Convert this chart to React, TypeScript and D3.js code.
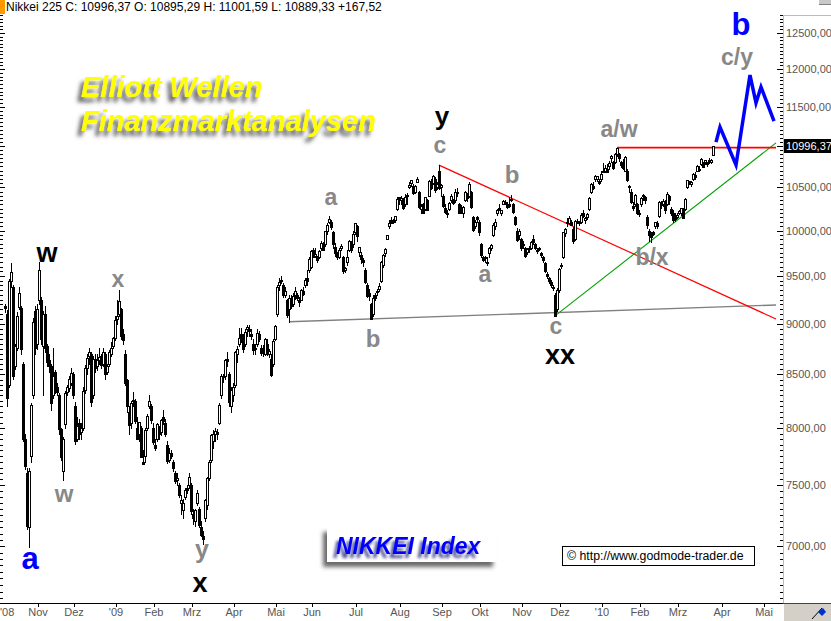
import React from 'react';
import * as d3 from 'd3';

type Candle = [number, number, number, number]; // open, high, low, close

// ---- Daily Nikkei 225 candles (open, high, low, close) ----
const oct08: Candle[] = [
  [9180, 9200, 9120, 9157], [9100, 9140, 8200, 8276], [8400, 9470, 8380, 9447], [9450, 9640, 9380, 9547],
  [9380, 9400, 8460, 8480], [8580, 8800, 8550, 8780], [8760, 9120, 8740, 9080], [9170, 9380, 9150, 9320],
  [9160, 9180, 8700, 8750], [8600, 8620, 7880, 7900], [7900, 7950, 7640, 7660], [7600, 7650, 7140, 7160],
  [7150, 7650, 6994, 7621], [7750, 8230, 7700, 8211], [8300, 9060, 8280, 9020], [9130, 9180, 8700, 8760],
];
const nov08: Candle[] = [
  [8800, 9200, 8750, 9150], [9250, 9650, 9200, 9560], [9250, 9280, 8800, 8850], [8780, 9130, 8300, 9100],
  [9100, 9180, 8720, 8760], [8780, 8800, 8580, 8620], [8640, 8700, 8520, 8580], [8580, 8600, 8160, 8230],
  [8300, 8760, 8280, 8480], [8520, 8540, 8320, 8380], [8380, 8420, 8300, 8330], [8300, 8320, 7950, 7990],
  [7990, 8000, 7720, 7740], [7620, 7920, 7540, 7900], [8040, 8340, 8000, 8320], [8330, 8400, 8300, 8380],
  [8370, 8480, 8340, 8460], [8420, 8560, 8400, 8512],
];
const dec08: Candle[] = [
  [8500, 8520, 8280, 8300], [8200, 8240, 7860, 7880], [7900, 8100, 7880, 8020], [8050, 8080, 7900, 7950],
  [7960, 8050, 7900, 8000], [8000, 8380, 7980, 8340], [8350, 8590, 8320, 8560], [8560, 8700, 8500, 8660],
  [8680, 8760, 8600, 8720], [8700, 8720, 8200, 8240], [8300, 8680, 8280, 8650], [8650, 8700, 8520, 8560],
  [8580, 8700, 8540, 8640], [8640, 8760, 8600, 8670], [8680, 8700, 8560, 8590], [8600, 8760, 8580, 8720],
  [8700, 8720, 8460, 8500], [8520, 8600, 8500, 8580], [8600, 8740, 8580, 8720], [8700, 8820, 8680, 8760],
  [8780, 8870, 8760, 8860],
];
const jan09: Candle[] = [
  [8860, 9080, 8840, 9043], [9050, 9240, 9000, 9080], [9100, 9350, 9080, 9239], [9150, 9160, 8850, 8876],
  [8900, 8950, 8800, 8836], [8700, 8740, 8400, 8413], [8450, 8460, 8150, 8200], [8150, 8200, 7950, 8023],
  [8050, 8250, 8000, 8230], [8250, 8330, 8200, 8256], [8250, 8270, 8050, 8065], [8000, 8100, 7900, 7901],
  [7950, 8050, 7880, 8051], [8000, 8020, 7740, 7745], [7700, 7800, 7680, 7682], [7750, 8000, 7700, 7985],
  [8000, 8130, 7980, 8106], [8200, 8300, 8180, 8251], [8200, 8220, 8050, 8077],
];
const feb09: Candle[] = [
  [8000, 8050, 7860, 7873], [7850, 7900, 7800, 7825], [7900, 8050, 7880, 8038], [8000, 8020, 7900, 7950],
  [7960, 8080, 7940, 8076], [8100, 8160, 8040, 8060], [8050, 8080, 7930, 7945], [7850, 7880, 7690, 7705],
  [7720, 7820, 7700, 7779], [7780, 7800, 7730, 7750], [7700, 7720, 7620, 7645], [7600, 7620, 7520, 7534],
  [7540, 7600, 7500, 7557], [7500, 7520, 7400, 7416], [7350, 7420, 7260, 7376], [7290, 7380, 7230, 7350],
  [7400, 7480, 7380, 7461], [7480, 7500, 7430, 7457], [7500, 7600, 7480, 7568],
];
const mar09: Candle[] = [
  [7500, 7520, 7260, 7280], [7260, 7300, 7180, 7229], [7200, 7300, 7160, 7290], [7350, 7460, 7330, 7433],
  [7300, 7320, 7150, 7173], [7150, 7200, 7080, 7086], [7080, 7120, 7021, 7054], [7230, 7380, 7200, 7376],
  [7330, 7570, 7300, 7560], [7560, 7720, 7540, 7700], [7720, 7950, 7700, 7940], [7880, 7980, 7820, 7950],
  [7950, 8000, 7880, 7972], [7960, 7990, 7900, 7945], [8050, 8230, 8040, 8215], [8300, 8500, 8280, 8488],
  [8470, 8500, 8430, 8480], [8480, 8650, 8460, 8636], [8650, 8720, 8580, 8626], [8500, 8520, 8200, 8236],
  [8200, 8380, 8150, 8350],
];
const apr09: Candle[] = [
  [8300, 8420, 8250, 8380], [8400, 8730, 8380, 8719], [8700, 8780, 8620, 8750], [8800, 8960, 8780, 8858],
  [8900, 8960, 8820, 8832], [8830, 8900, 8720, 8750], [8800, 8950, 8780, 8917], [8950, 8990, 8880, 8964],
  [8950, 8990, 8880, 8924], [8900, 8950, 8850, 8873], [8800, 8850, 8700, 8742], [8750, 8800, 8700, 8755],
  [8800, 8950, 8780, 8907], [8900, 8930, 8830, 8844], [8760, 8790, 8690, 8711], [8720, 8790, 8680, 8727],
  [8700, 8860, 8690, 8847], [8800, 8850, 8690, 8707], [8700, 8750, 8670, 8726], [8650, 8700, 8480, 8493],
  [8600, 8850, 8580, 8828],
];
const may09: Candle[] = [
  [8850, 8990, 8840, 8977], [9100, 9400, 9080, 9385], [9400, 9480, 9350, 9432], [9450, 9500, 9420, 9451],
  [9400, 9420, 9280, 9298], [9300, 9380, 9280, 9340], [9250, 9260, 9070, 9093], [9150, 9300, 9020, 9265],
  [9220, 9300, 9160, 9180], [9200, 9320, 9180, 9290], [9300, 9380, 9260, 9344], [9300, 9320, 9240, 9264],
  [9250, 9280, 9180, 9225], [9250, 9360, 9240, 9348], [9340, 9380, 9300, 9310], [9400, 9480, 9380, 9461],
  [9480, 9560, 9400, 9450], [9560, 9700, 9540, 9680],
];
const jun09: Candle[] = [
  [9600, 9780, 9580, 9768], [9780, 9800, 9700, 9704], [9720, 9800, 9700, 9741], [9700, 9720, 9650, 9668],
  [9700, 9780, 9690, 9768], [9800, 9880, 9780, 9865], [9850, 9870, 9780, 9786], [9850, 9991, 9830, 9991],
  [9990, 10080, 9960, 10066], [10100, 10170, 10080, 10135], [10100, 10120, 10020, 10040], [9980, 10000, 9800, 9848],
  [9820, 9860, 9720, 9750], [9750, 9760, 9680, 9703], [9700, 9800, 9690, 9786], [9800, 9850, 9780, 9827],
  [9700, 9720, 9530, 9549], [9560, 9600, 9540, 9590], [9650, 9780, 9620, 9701], [9780, 9890, 9770, 9877],
  [9850, 9880, 9760, 9783], [9850, 9990, 9820, 9958],
];
const jul09: Candle[] = [
  [9980, 10090, 9960, 10086], [10050, 10060, 9880, 9939], [9760, 9820, 9720, 9810], [9730, 9760, 9640, 9680],
  [9670, 9690, 9610, 9647], [9560, 9580, 9420, 9440], [9400, 9420, 9280, 9291], [9320, 9360, 9250, 9288],
  [9200, 9210, 9050, 9050], [9100, 9300, 9080, 9262], [9300, 9320, 9240, 9269], [9330, 9360, 9300, 9344],
  [9360, 9420, 9340, 9395], [9450, 9660, 9440, 9652], [9620, 9740, 9600, 9723], [9750, 9800, 9720, 9792],
  [9900, 9950, 9900, 9944], [10050, 10120, 10030, 10088], [10120, 10150, 10080, 10087], [10100, 10130, 10080, 10113],
  [10120, 10170, 10100, 10165], [10250, 10380, 10240, 10357],
];
const aug09: Candle[] = [
  [10380, 10380, 10300, 10352], [10350, 10400, 10300, 10375], [10350, 10370, 10250, 10252], [10300, 10420, 10280, 10388],
  [10400, 10430, 10300, 10412], [10500, 10560, 10490, 10524], [10550, 10590, 10520, 10585], [10520, 10540, 10420, 10435],
  [10450, 10530, 10430, 10517], [10560, 10620, 10560, 10597], [10450, 10460, 10260, 10269], [10250, 10300, 10200, 10284],
  [10300, 10320, 10200, 10204], [10250, 10390, 10240, 10383], [10350, 10360, 10230, 10238], [10400, 10590, 10400, 10581],
  [10560, 10600, 10480, 10497], [10550, 10650, 10540, 10639], [10600, 10620, 10440, 10473], [10500, 10560, 10480, 10534],
  [10700, 10767, 10480, 10492],
];
const sep09: Candle[] = [
  [10500, 10540, 10400, 10530], [10400, 10420, 10270, 10280], [10260, 10300, 10200, 10214], [10200, 10230, 10150, 10187],
  [10250, 10330, 10240, 10320], [10350, 10420, 10330, 10393], [10350, 10360, 10300, 10312], [10350, 10480, 10330, 10444],
  [10450, 10490, 10400, 10430], [10300, 10320, 10200, 10202], [10250, 10290, 10200, 10217], [10200, 10280, 10150, 10270],
  [10350, 10460, 10340, 10443], [10420, 10430, 10340, 10370], [10400, 10560, 10380, 10544], [10450, 10460, 10260, 10265],
  [10150, 10160, 10000, 10009], [10050, 10120, 10030, 10100], [10150, 10160, 10100, 10133],
];
const oct09: Candle[] = [
  [10100, 10120, 9950, 9978], [9850, 9860, 9700, 9731], [9700, 9720, 9660, 9674], [9700, 9720, 9650, 9691],
  [9650, 9700, 9620, 9647], [9750, 9810, 9700, 9799], [9800, 9850, 9780, 9832], [9950, 10080, 9940, 10060],
  [10050, 10130, 10020, 10100], [10200, 10250, 10180, 10238], [10250, 10300, 10230, 10258], [10200, 10240, 10180, 10236],
  [10300, 10350, 10300, 10336], [10330, 10350, 10300, 10333], [10300, 10330, 10260, 10267], [10300, 10380, 10270, 10282],
  [10350, 10410, 10340, 10362], [10300, 10320, 10200, 10212], [10150, 10160, 10060, 10075], [10000, 10030, 9880, 9891],
  [9950, 10020, 9900, 10000],
];
const nov09: Candle[] = [
  [9900, 9920, 9780, 9802], [9850, 9880, 9800, 9844], [9800, 9820, 9700, 9718], [9760, 9800, 9740, 9789],
  [9800, 9830, 9760, 9809], [9800, 9880, 9790, 9870], [9900, 9950, 9850, 9871], [9850, 9860, 9790, 9804],
  [9780, 9800, 9750, 9770], [9800, 9820, 9780, 9791], [9750, 9760, 9700, 9731], [9700, 9720, 9650, 9676],
  [9640, 9650, 9540, 9549], [9520, 9540, 9480, 9497], [9480, 9490, 9420, 9441], [9440, 9460, 9380, 9401],
  [9380, 9400, 9350, 9383], [9300, 9320, 9076, 9081], [9150, 9370, 9130, 9345],
];
const dec09: Candle[] = [
  [9350, 9580, 9330, 9572], [9620, 9640, 9580, 9608], [9700, 9980, 9690, 9978], [9970, 10030, 9940, 10022],
  [10100, 10140, 10050, 10090], [10080, 10160, 10070, 10140], [10100, 10120, 10060, 10068], [10020, 10040, 9860, 9879],
  [9900, 10120, 9890, 10107], [10100, 10130, 10080, 10105], [10100, 10110, 10060, 10083], [10100, 10200, 10090, 10177],
  [10200, 10240, 10150, 10163], [10120, 10150, 10080, 10142], [10150, 10200, 10130, 10183], [10250, 10380, 10240, 10370],
  [10450, 10550, 10430, 10536], [10520, 10560, 10480, 10494], [10600, 10650, 10570, 10634], [10600, 10640, 10580, 10638],
  [10580, 10600, 10540, 10546],
];
const jan10: Candle[] = [
  [10600, 10700, 10580, 10654], [10700, 10790, 10680, 10681], [10700, 10770, 10680, 10731], [10720, 10780, 10680, 10681],
  [10750, 10820, 10720, 10798], [10850, 10890, 10800, 10879], [10800, 10820, 10720, 10735], [10800, 10920, 10790, 10907],
  [10900, 10982, 10880, 10982], [10900, 10920, 10820, 10855], [10800, 10820, 10740, 10764], [10800, 10840, 10720, 10737],
  [10700, 10880, 10690, 10868], [10700, 10720, 10580, 10590], [10500, 10530, 10450, 10512], [10450, 10480, 10320, 10325],
  [10280, 10330, 10240, 10252], [10300, 10420, 10280, 10414], [10300, 10320, 10190, 10198],
];
const feb10: Candle[] = [
  [10200, 10240, 10160, 10205], [10300, 10390, 10280, 10371], [10400, 10420, 10350, 10404], [10380, 10400, 10320, 10355],
  [10150, 10180, 10030, 10057], [10000, 10020, 9880, 9951], [9950, 9980, 9870, 9932], [9980, 10000, 9950, 9963],
  [10050, 10100, 10030, 10092], [10080, 10110, 10030, 10050], [10160, 10340, 10150, 10330], [10300, 10340, 10260, 10306],
  [10300, 10360, 10280, 10335], [10330, 10350, 10200, 10230], [10300, 10450, 10290, 10420], [10400, 10410, 10300, 10352],
  [10250, 10270, 10180, 10198], [10200, 10230, 10100, 10120], [10150, 10200, 10110, 10126],
];
const mar10: Candle[] = [
  [10150, 10200, 10140, 10172], [10200, 10230, 10190, 10221], [10200, 10260, 10180, 10253], [10250, 10260, 10140, 10145],
  [10250, 10370, 10240, 10368], [10500, 10590, 10490, 10585], [10570, 10580, 10540, 10567], [10540, 10580, 10520, 10563],
  [10600, 10670, 10590, 10664], [10650, 10680, 10600, 10624], [10700, 10770, 10690, 10751], [10720, 10760, 10700, 10721],
  [10780, 10850, 10770, 10846], [10800, 10810, 10740, 10744], [10800, 10830, 10780, 10824], [10800, 10810, 10750, 10775],
  [10830, 10850, 10790, 10815], [10800, 10840, 10790, 10829], [10895.29, 11001.59, 10889.33, 10996.37],
];

// trading-day index (0 = 1 Oct 2008) of the first candle above (9 Oct 2008)
const firstIndex = 6;

// month axis: label + trading-day index of the month's first session
const monthLabels = ["'08", 'Nov', 'Dez', "'09", 'Feb', 'Mrz', 'Apr', 'Mai', 'Jun', 'Jul', 'Aug', 'Sep', 'Okt', 'Nov', 'Dez', "'10", 'Feb', 'Mrz', 'Apr', 'Mai'];
const monthStarts = [0, 22, 40, 61, 80, 99, 120, 141, 159, 181, 203, 224, 243, 264, 283, 304, 323, 342, 364, 385];

// price axis labels
const priceTicks = [7000, 7500, 8000, 8500, 9000, 9500, 10000, 10500, 11000, 11500, 12000, 12500];

// projected path (blue) : [trading-day index, price]
const projection: [number, number][] = [
  [361.5, 11050], [363.5, 11240], [371.5, 10768], [378.5, 11920], [381.5, 11550], [384, 11760], [390.5, 11316],
];

// trend lines: [index, price] -> [index, price]
const resistanceLine: [number, number][] = [[312, 10982], [391.5, 10982]];
const downTrendLine: [number, number][] = [[223, 10767], [391.5, 9049]];
const upTrendLine: [number, number][] = [[281, 9080], [391.5, 11040]];
const baseLine: [number, number][] = [[148, 9020], [391.5, 9193]];

// wave labels: text, index, price (baseline), color, size
const waveLabels: { t: string; i: number; p: number; c: string; s: number }[] = [
  { t: 'w', i: 27, p: 9650, c: '#000', s: 27 },
  { t: 'a', i: 18.5, p: 6821, c: '#0000ff', s: 31 },
  { t: 'w', i: 35.5, p: 7358, c: '#888', s: 24 },
  { t: 'x', i: 62.5, p: 9381, c: '#888', s: 23 },
  { t: 'y', i: 104.5, p: 6906, c: '#888', s: 25 },
  { t: 'x', i: 103.5, p: 6646, c: '#000', s: 27 },
  { t: 'a', i: 169, p: 10292, c: '#888', s: 23 },
  { t: 'b', i: 190, p: 8766, c: '#888', s: 24 },
  { t: 'y', i: 224.5, p: 11260, c: '#000', s: 26 },
  { t: 'c', i: 223.5, p: 10915, c: '#888', s: 23 },
  { t: 'b', i: 259.5, p: 10551, c: '#888', s: 24 },
  { t: 'a', i: 246, p: 9435, c: '#888', s: 23 },
  { t: 'c', i: 281.5, p: 8896, c: '#888', s: 23 },
  { t: 'xx', i: 283.5, p: 8600, c: '#000', s: 27 },
  { t: 'a/w', i: 313, p: 11114, c: '#888', s: 23 },
  { t: 'b/x', i: 329.5, p: 9618, c: '#888', s: 23 },
  { t: 'c/y', i: 372, p: 12056, c: '#888', s: 23 },
  { t: 'b', i: 374, p: 12472, c: '#0000ff', s: 31 },
];

const candles: Candle[] = [
  ...oct08, ...nov08, ...dec08, ...jan09, ...feb09, ...mar09, ...apr09, ...may09, ...jun09,
  ...jul09, ...aug09, ...sep09, ...oct09, ...nov09, ...dec09, ...jan10, ...feb10, ...mar10,
];

const W = 831;
const H = 621;
const PLOT_R = 783;
const PLOT_T = 15;
const AXIS_Y = 603;
const FONT = "Arial, 'Liberation Sans', sans-serif";

const fmt = (v: number) => v.toFixed(2).replace('.', ',');

export default function App() {
  const x = d3.scaleLinear().domain([0, 385]).range([-7, 763]);
  const y = d3.scaleLog().domain([6565, 12771]).range([AXIS_Y, 14]);

  const line = d3
    .line<[number, number]>()
    .x((d) => x(d[0]))
    .y((d) => y(d[1]));

  const minorTicks = d3.range(6600, 12800, 50);
  const last = candles[candles.length - 1];

  return (
    <svg
      width={W}
      height={H}
      style={{ position: 'absolute', left: 0, top: 0, background: '#fff' }}
      fontFamily={FONT}
    >
      <defs>
        <clipPath id="plot">
          <rect x={0} y={PLOT_T} width={PLOT_R} height={AXIS_Y - PLOT_T} />
        </clipPath>
        <filter id="tshadow" x="-10%" y="-40%" width="120%" height="180%">
          <feGaussianBlur in="SourceAlpha" stdDeviation="2.2" />
          <feOffset dx="-4" dy="5" result="off" />
          <feFlood floodColor="#3a3a3a" floodOpacity="0.85" />
          <feComposite in2="off" operator="in" />
          <feMerge>
            <feMergeNode />
            <feMergeNode in="SourceGraphic" />
          </feMerge>
        </filter>
        <filter id="nshadow" x="-10%" y="-40%" width="120%" height="180%">
          <feGaussianBlur in="SourceAlpha" stdDeviation="1.8" />
          <feOffset dx="-3" dy="4" result="off" />
          <feFlood floodColor="#000060" floodOpacity="0.7" />
          <feComposite in2="off" operator="in" />
          <feMerge>
            <feMergeNode />
            <feMergeNode in="SourceGraphic" />
          </feMerge>
        </filter>
        <filter id="bshadow" x="-10%" y="-30%" width="120%" height="160%">
          <feGaussianBlur in="SourceAlpha" stdDeviation="2" />
          <feOffset dx="-4" dy="5" result="off" />
          <feFlood floodColor="#444" floodOpacity="0.8" />
          <feComposite in2="off" operator="in" />
          <feMerge>
            <feMergeNode />
            <feMergeNode in="SourceGraphic" />
          </feMerge>
        </filter>
      </defs>

      <rect x={0} y={0} width={W} height={H} fill="#fff" />

      {/* header */}
      <rect x={0} y={0} width={5} height={14} fill="#ff9900" />
      <text x={6} y={11} fontSize={12} fill="#000">
        {`Nikkei 225 C: ${fmt(last[3])} O: ${fmt(last[0])} H: ${fmt(last[1])} L: ${fmt(last[2])} +167,52`}
      </text>
      <rect x={819} y={0} width={12} height={4} fill="#c8c8c8" />
      <line x1={819} x2={831} y1={4.5} y2={4.5} stroke="#808080" />

      {/* left-side ticks */}
      <g shapeRendering="crispEdges" stroke="#000">
        {minorTicks.map((v) => {
          const yy = Math.round(y(v)) + 0.5;
          if (yy < PLOT_T || yy > AXIS_Y) return null;
          return <line key={v} x1={0} x2={v % 500 === 0 ? 5 : 3} y1={yy} y2={yy} />;
        })}
      </g>

      {/* title */}
      <g filter="url(#tshadow)" fill="#ffff00" fontWeight="bold" fontStyle="italic" fontSize={29}>
        <text x={81} y={97}>Elliott Wellen</text>
        <text x={81} y={131}>Finanzmarktanalysen</text>
      </g>

      {/* plot content */}
      <g clipPath="url(#plot)">
        {/* trend lines */}
        <path d={line(baseLine) || ''} stroke="#808080" strokeWidth={1.4} fill="none" />
        <path d={line(downTrendLine) || ''} stroke="#ff0000" strokeWidth={1.2} fill="none" />
        <path d={line(upTrendLine) || ''} stroke="#00a000" strokeWidth={1.1} fill="none" />
        <path d={line(resistanceLine) || ''} stroke="#ff0000" strokeWidth={1.6} fill="none" />

        {/* candles */}
        <g shapeRendering="crispEdges">
          {candles.map((c, k) => {
            const i = firstIndex + k;
            const cx = Math.round(x(i));
            const [o, h, l, cl] = c;
            const up = cl >= o;
            const yTop = Math.round(y(Math.max(o, cl)));
            const yBot = Math.round(y(Math.min(o, cl)));
            const yH = Math.round(y(h));
            const yL = Math.round(y(l));
            return (
              <g key={k}>
                <line x1={cx + 0.5} x2={cx + 0.5} y1={yH} y2={yL + 1} stroke="#000" />
                <rect
                  x={cx - 0.5}
                  y={yTop + 0.5}
                  width={2}
                  height={Math.max(yBot - yTop, 1)}
                  fill={up ? '#fff' : '#000'}
                  stroke="#000"
                />
              </g>
            );
          })}
        </g>

        {/* projection */}
        <path
          d={line(projection) || ''}
          stroke="#0000ff"
          strokeWidth={3.5}
          fill="none"
          strokeLinejoin="miter"
          strokeLinecap="butt"
        />
      </g>

      {/* wave labels */}
      <g fontWeight="bold" textAnchor="middle">
        {waveLabels.map((d, k) => (
          <text key={k} x={x(d.i)} y={y(d.p)} fill={d.c} fontSize={d.s}>
            {d.t}
          </text>
        ))}
      </g>

      {/* NIKKEI Index box */}
      <rect x={327} y={527} width={170} height={35} fill="#fff" filter="url(#bshadow)" />
      <text
        x={336}
        y={554}
        fontSize={23}
        fontWeight="bold"
        fontStyle="italic"
        fill="#0000ff"
        filter="url(#nshadow)"
      >
        NIKKEI Index
      </text>

      {/* copyright box */}
      <rect x={562.5} y={546.5} width={192} height={19} fill="#fff" stroke="#000" shapeRendering="crispEdges" />
      <text x={567} y={560} fontSize={12.3} fill="#000">
        © http://www.godmode-trader.de
      </text>

      {/* right price axis */}
      <rect x={PLOT_R + 1} y={PLOT_T} width={W - PLOT_R - 1} height={AXIS_Y - PLOT_T} fill="#fff" />
      <g shapeRendering="crispEdges" stroke="#000">
        {minorTicks.map((v) => {
          const yy = Math.round(y(v)) + 0.5;
          if (yy < PLOT_T || yy > AXIS_Y) return null;
          return <line key={v} x1={v % 500 === 0 ? 777 : 780} x2={PLOT_R} y1={yy} y2={yy} />;
        })}
      </g>
      <line x1={PLOT_R + 0.5} x2={PLOT_R + 0.5} y1={PLOT_T} y2={AXIS_Y} stroke="#f0c020" shapeRendering="crispEdges" />
      <line x1={PLOT_R} x2={W} y1={PLOT_T + 0.5} y2={PLOT_T + 0.5} stroke="#f0c020" shapeRendering="crispEdges" />
      <g fontSize={11} fill="#555">
        {priceTicks.map((v) => (
          <text key={v} x={786} y={y(v) + 4}>
            {fmt(v)}
          </text>
        ))}
      </g>
      <rect x={784} y={Math.round(y(last[3])) - 7} width={47} height={14} fill="#000" />
      <text x={786} y={Math.round(y(last[3])) + 4} fontSize={11} fill="#fff">
        {fmt(last[3])}
      </text>

      {/* bottom time axis */}
      <line x1={0} x2={PLOT_R} y1={AXIS_Y + 0.5} y2={AXIS_Y + 0.5} stroke="#000" shapeRendering="crispEdges" />
      <g shapeRendering="crispEdges" stroke="#000">
        {monthStarts.map((m, k) => {
          const xx = Math.round(x(m)) + 1.5;
          if (xx < 0 || xx > PLOT_R) return null;
          return <line key={k} x1={xx} x2={xx} y1={AXIS_Y + 1} y2={AXIS_Y + 4} />;
        })}
      </g>
      <g fontSize={11} fill="#555">
        {monthLabels.map((lab, k) => {
          const xx = Math.round(x(monthStarts[k])) + 1;
          const clamp = xx - 9 < 0;
          return (
            <text key={k} x={clamp ? 0 : xx} y={616} textAnchor={clamp ? 'start' : 'middle'}>
              {lab}
            </text>
          );
        })}
      </g>

      {/* bottom-right corner widget */}
      <rect x={PLOT_R + 1} y={AXIS_Y + 1} width={W - PLOT_R - 1} height={H - AXIS_Y - 1} fill="#d4d0c8" />
      <line x1={PLOT_R} x2={W} y1={AXIS_Y + 0.5} y2={AXIS_Y + 0.5} stroke="#0040ff" shapeRendering="crispEdges" />
      <path d="M812,619 L822,608" stroke="#000" strokeWidth={1} />
      <path d="M818,612 L823,608 L826,612 L822,616 Z" fill="#0030d0" />
    </svg>
  );
}
